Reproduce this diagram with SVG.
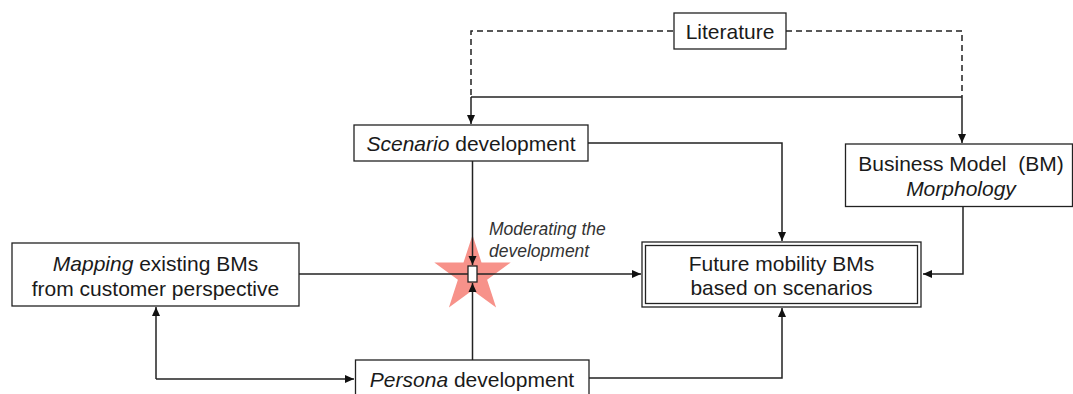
<svg xmlns="http://www.w3.org/2000/svg" width="1073" height="394" viewBox="0 0 1073 394">
<defs>
<style>
.box{fill:#fff;stroke:#222;stroke-width:1.3}
.t{font-family:"Liberation Sans",Arial,sans-serif;font-size:21px;fill:#1a1a1a;text-anchor:middle}
.i{font-style:italic}
.c{fill:none;stroke:#222;stroke-width:1.5}
.d{stroke-dasharray:6,4}
.m{font-family:"Liberation Sans",Arial,sans-serif;font-size:17.5px;font-style:italic;fill:#333}
</style>
<marker id="a" markerWidth="10" markerHeight="10" refX="9" refY="5" orient="auto" markerUnits="userSpaceOnUse">
<path d="M0,1 L9,5 L0,9 Z" fill="#111"/>
</marker>
</defs>
<rect width="1073" height="394" fill="#fff"/>
<g id="star">
<polygon fill="#F7928A" points="472.5,235 481.5,262.6 510.7,262.6 487.1,279.7 496.1,307.5 472.5,290.3 448.9,307.5 457.9,279.7 434.3,262.6 463.5,262.6"/>
</g>
<g id="connectors">
<path class="c d" d="M673,31 H471 V97"/>
<path class="c d" d="M786,31 H962 V97"/>
<path class="c" d="M471,97 H962"/>
<path class="c" d="M471,97 V124" marker-end="url(#a)"/>
<path class="c" d="M962,97 V143" marker-end="url(#a)"/>
<path class="c" d="M588,143 H782 V241" marker-end="url(#a)"/>
<path class="c" d="M472.5,161 V265" marker-end="url(#a)"/>
<path class="c" d="M472.5,360 V283" marker-end="url(#a)"/>
<path class="c" d="M299,274 H468"/>
<path class="c" d="M477,274 H641" marker-end="url(#a)"/>
<path class="c" d="M963,207 V274 H923" marker-end="url(#a)"/>
<path class="c" d="M589,378 H782 V308" marker-end="url(#a)"/>
<path class="c" d="M156,379 V307" marker-end="url(#a)"/>
<path class="c" d="M156,379 H354" marker-end="url(#a)"/>
</g>
<g id="moderator">
<rect x="468" y="266" width="9" height="16" fill="#fff" stroke="#222" stroke-width="1.3"/>
<text class="m" x="489" y="235">Moderating the</text>
<text class="m" x="489" y="257">development</text>
</g>
<g id="literature">
<rect class="box" x="674" y="13" width="112" height="36"/>
<text class="t" x="730" y="38.5">Literature</text>
</g>
<g id="scenario">
<rect class="box" x="354" y="125" width="234" height="36"/>
<text class="t" x="471" y="150.5"><tspan class="i">Scenario</tspan> development</text>
</g>
<g id="bm">
<rect class="box" x="845.5" y="144" width="227" height="62.5"/>
<text class="t" x="961" y="170.5" xml:space="preserve" style="white-space:pre">Business Model  (BM)</text>
<text class="t i" x="961" y="195.5">Morphology</text>
</g>
<g id="mapping">
<rect class="box" x="12" y="243" width="287" height="63"/>
<text class="t" x="155.5" y="270.5"><tspan class="i">Mapping</tspan> existing BMs</text>
<text class="t" x="155.5" y="295.5">from customer perspective</text>
</g>
<g id="future">
<rect class="box" x="642" y="242" width="279" height="65"/>
<rect fill="none" stroke="#222" stroke-width="1.3" x="645.5" y="245.5" width="272" height="58"/>
<text class="t" x="781.5" y="270.5">Future mobility BMs</text>
<text class="t" x="781.5" y="294.5">based on scenarios</text>
</g>
<g id="persona">
<rect class="box" x="355.5" y="360" width="233.5" height="40"/>
<text class="t" x="472" y="386.5"><tspan class="i">Persona</tspan> development</text>
</g>
</svg>
